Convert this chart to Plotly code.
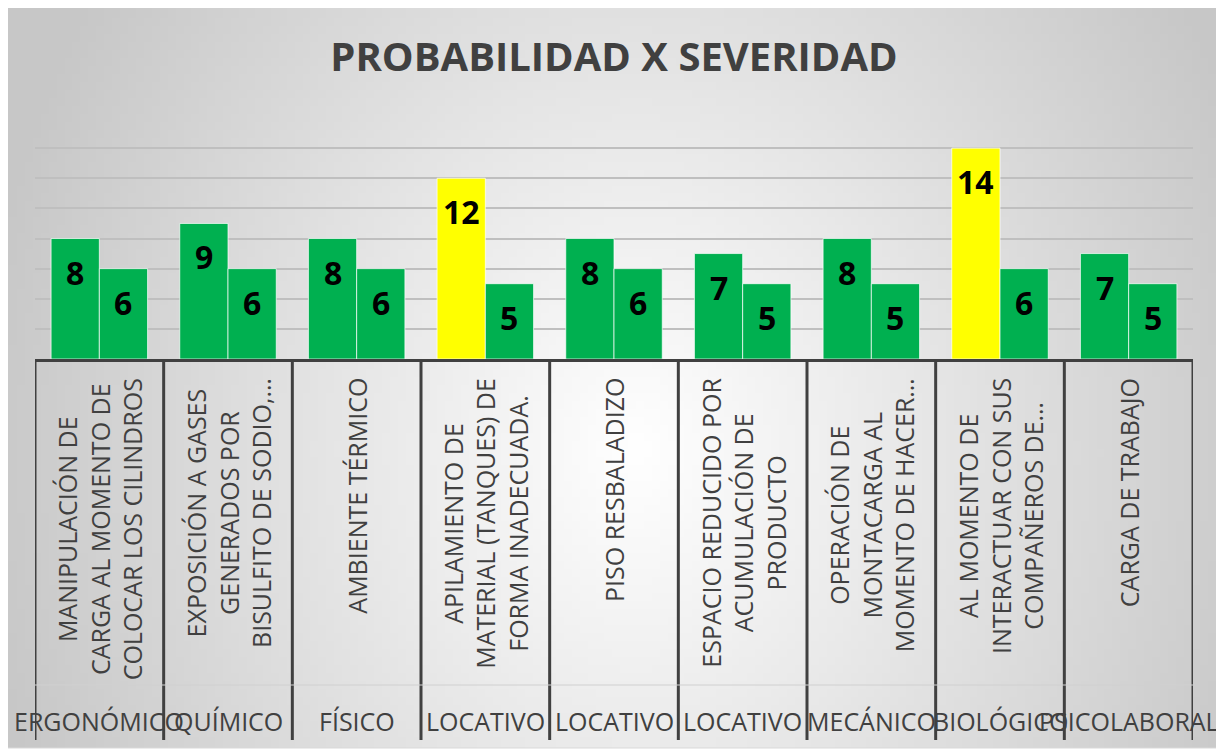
import base64
import struct
import zlib

import plotly.graph_objects as go

# datos
riesgos = ["ERGONÓMICO", "QUÍMICO", "FÍSICO", "LOCATIVO", "LOCATIVO",
           "LOCATIVO", "MECÁNICO", "BIOLÓGICO", "PSICOLABORAL"]

peligros = [
    "MANIPULACIÓN DE<br>CARGA AL MOMENTO DE<br>COLOCAR LOS CILINDROS",
    "EXPOSICIÓN A GASES<br>GENERADOS POR<br>BISULFITO DE SODIO,…",
    "AMBIENTE TÉRMICO",
    "APILAMIENTO DE<br>MATERIAL (TANQUES) DE<br>FORMA INADECUADA.",
    "PISO RESBALADIZO",
    "ESPACIO REDUCIDO POR<br>ACUMULACIÓN DE<br>PRODUCTO",
    "OPERACIÓN DE<br>MONTACARGA AL<br>MOMENTO DE HACER…",
    "AL MOMENTO DE<br>INTERACTUAR CON SUS<br>COMPAÑEROS DE…",
    "CARGA DE TRABAJO",
]

serie_1 = [8, 9, 8, 12, 8, 7, 8, 14, 7]
serie_2 = [6, 6, 6, 5, 6, 5, 5, 6, 5]

VERDE = "#00B050"
AMARILLO = "#FFFF00"
GRIS = "#404040"
LIMITE_ALTO = 10

# la pagina deja 8px de margen alrededor de la figura
OFF = 8
W, H = 1224 - OFF, 751 - OFF
L, R, T, B = 35 - OFF, 1193 - OFF, 118 - OFF, 359 - OFF


def px_x(p):
    return (p - OFF - L) / (R - L)


def px_y(p):
    return (B - (p - OFF)) / (B - T)


def fondo_radial(w, h):
    filas = []
    for j in range(h):
        fila = bytearray([0])
        for i in range(w):
            dx = (i / (w - 1) - 0.52) / 0.55
            dy = (j / (h - 1) - 0.6) / 1.1
            t = min(1.0, (dx * dx + dy * dy) ** 0.5)
            v = int(round(255 - 56 * t))
            fila += bytes([v, v, v])
        filas.append(bytes(fila))

    def chunk(tag, data):
        c = struct.pack(">I", len(data)) + tag + data
        return c + struct.pack(">I", zlib.crc32(tag + data) & 0xFFFFFFFF)

    png = (b"\x89PNG\r\n\x1a\n"
           + chunk(b"IHDR", struct.pack(">IIBBBBB", w, h, 8, 2, 0, 0, 0))
           + chunk(b"IDAT", zlib.compress(b"".join(filas)))
           + chunk(b"IEND", b""))
    return "data:image/png;base64," + base64.b64encode(png).decode()


def colores(valores):
    return [AMARILLO if v >= LIMITE_ALTO else VERDE for v in valores]


fig = go.Figure()

for serie in (serie_1, serie_2):
    fig.add_trace(go.Bar(
        x=peligros,
        y=serie,
        marker=dict(color=colores(serie),
                    line=dict(color="rgba(255,255,255,0.7)", width=1)),
        hoverinfo="x+y",
    ))

# etiquetas de datos
ancho = (1 - 0.25) / 2
for k, serie in enumerate((serie_1, serie_2)):
    for i, v in enumerate(serie):
        fig.add_annotation(
            x=i + (k - 0.5) * ancho, y=v, xref="x", yref="y",
            text=f"<b>{v}</b>", showarrow=False,
            yanchor="top", yshift=-10,
            font=dict(family="Open Sans", size=32, color="black"),
        )

# etiquetas del eje (dos niveles)
for i, texto in enumerate(peligros):
    fig.add_annotation(
        x=i, y=0, xref="x", yref="y", text=texto, showarrow=False,
        textangle=-90, align="center", yanchor="top", yshift=-17,
        font=dict(family="Open Sans", size=25, color=GRIS),
    )

for i, texto in enumerate(riesgos):
    fig.add_annotation(
        x=i, y=px_y(721), xref="x", yref="paper", text=texto,
        showarrow=False, yanchor="middle",
        font=dict(family="Open Sans", size=25, color=GRIS),
    )

# divisiones entre categorias
for i in range(len(peligros) + 1):
    fig.add_shape(type="line", xref="x", yref="paper",
                  x0=i - 0.5, x1=i - 0.5, y0=0, y1=px_y(740),
                  line=dict(color=GRIS, width=3))

fig.add_shape(type="line", xref="paper", yref="paper",
              x0=0, x1=1, y0=px_y(685), y1=px_y(685),
              line=dict(color="#d0d0d0", width=1))

# borde del area del grafico
fig.add_shape(type="rect", xref="paper", yref="paper",
              x0=px_x(5), x1=px_x(1219), y0=px_y(6), y1=px_y(748),
              line=dict(color="#d9d9d9", width=1), layer="below")

fig.add_layout_image(
    source=fondo_radial(153, 93), xref="paper", yref="paper",
    x=px_x(5), y=px_y(6), sizex=(1219 - 5) / (R - L),
    sizey=(748 - 6) / (B - T), xanchor="left", yanchor="top",
    sizing="stretch", layer="below",
)

fig.update_layout(
    width=W, height=H,
    margin=dict(l=L, r=W - R, t=T, b=H - B),
    paper_bgcolor="white",
    plot_bgcolor="rgba(0,0,0,0)",
    barmode="group", bargap=0.25, bargroupgap=0,
    showlegend=False,
    title=dict(text="<b>PROBABILIDAD X SEVERIDAD</b>", x=0.5, xref="paper",
               y=1 - (57 - OFF) / H, yanchor="middle",
               font=dict(family="Open Sans", size=40, color=GRIS)),
    xaxis=dict(range=[-0.5, len(peligros) - 0.5], showticklabels=False,
               showgrid=False, showline=True, linecolor=GRIS, linewidth=3,
               ticks="", zeroline=False, fixedrange=True),
    yaxis=dict(range=[0, 16], dtick=2, showticklabels=False,
               showgrid=True, gridcolor="#bfbfbf", gridwidth=1.5,
               zeroline=False, showline=False, ticks="", fixedrange=True),
)

fig.write_html("out.html")
